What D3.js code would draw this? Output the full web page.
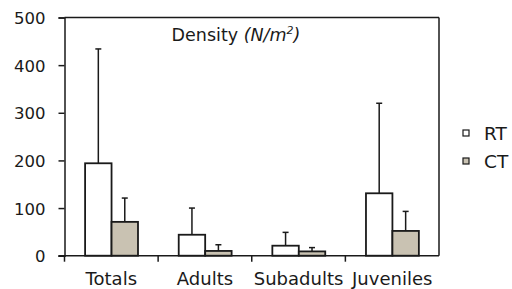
<!DOCTYPE html>
<html><head><meta charset="utf-8">
<script src="https://cdn.jsdelivr.net/npm/d3@7"></script>
<style>body{margin:0;background:#fff;} text{font-family:"DejaVu Sans",Verdana,sans-serif;fill:#1a1a1a;}</style>
</head><body><svg id="c" width="512" height="289"></svg>
<script>
const categories = ["Totals","Adults","Subadults","Juveniles"];
const series = ["RT","CT"];
const rtValues = [194, 44, 21, 131];
const ctValues = [71, 10, 9, 52];
const rtErrors = [434, 100, 49, 320];
const ctErrors = [121, 23, 17, 93];
const yTicks = [0,100,200,300,400,500];
const colors = {RT:"#ffffff", CT:"#c9c2b2"};

const svg = d3.select("#c");
const L=64.5, R=439, T=17.5, B=255.7;
const x0 = d3.scaleBand().domain(categories).range([L,R]);
const bw = x0.bandwidth();
const x1 = d3.scaleBand().domain(series).range([bw*0.22, bw*0.785]);
const y = d3.scaleLinear().domain([0,500]).range([B,T]);
const ink = "#1a1a1a";

const data = categories.map((c,i)=>[
  {cat:c, s:"RT", v:rtValues[i], e:rtErrors[i]},
  {cat:c, s:"CT", v:ctValues[i], e:ctErrors[i]}
]).flat();

// plot border top/right
svg.append("line").attr("x1",L).attr("x2",R).attr("y1",T).attr("y2",T).attr("stroke",ink).attr("stroke-width",1.5);
svg.append("line").attr("x1",R).attr("x2",R).attr("y1",T).attr("y2",B).attr("stroke",ink).attr("stroke-width",1.5);

// error bars
const eg = svg.append("g");
data.forEach(d=>{
  const cx = x0(d.cat)+x1(d.s)+x1.bandwidth()/2;
  eg.append("line").attr("x1",cx).attr("x2",cx).attr("y1",y(d.v)).attr("y2",y(d.e)).attr("stroke",ink).attr("stroke-width",1.5);
  eg.append("line").attr("x1",cx-3).attr("x2",cx+3).attr("y1",y(d.e)).attr("y2",y(d.e)).attr("stroke",ink).attr("stroke-width",1.5);
});
// bars
svg.append("g").selectAll("rect").data(data).join("rect")
  .attr("x",d=>x0(d.cat)+x1(d.s)).attr("width",x1.bandwidth())
  .attr("y",d=>y(d.v)).attr("height",d=>B-y(d.v))
  .attr("fill",d=>colors[d.s]).attr("stroke",ink).attr("stroke-width",1.8);

// y axis
const ya = svg.append("g").attr("transform",`translate(${L},0)`)
  .call(d3.axisLeft(y).tickValues(yTicks).tickSize(6).tickPadding(13));
ya.select(".domain").attr("stroke",ink).attr("stroke-width",1.5);
ya.selectAll(".tick line").attr("stroke",ink).attr("stroke-width",1.5);
ya.selectAll("text").attr("font-size",16.5).attr("font-family","DejaVu Sans").attr("fill",ink).attr("dy","0.36em");

// x axis
svg.append("line").attr("x1",L-6).attr("x2",R).attr("y1",B).attr("y2",B).attr("stroke",ink).attr("stroke-width",1.5);
const bounds = categories.map(c=>x0(c));
svg.append("g").selectAll("line").data(bounds).join("line")
  .attr("x1",d=>d).attr("x2",d=>d).attr("y1",B).attr("y2",B+6).attr("stroke",ink).attr("stroke-width",1.5);
svg.append("g").selectAll("text").data(categories).join("text")
  .attr("x",d=>x0(d)+bw/2).attr("y",284.5).attr("text-anchor","middle").attr("font-size",18).text(d=>d);

// title
const t = svg.append("text").attr("x",236).attr("y",41).attr("text-anchor","middle").attr("font-size",17.5);
t.append("tspan").text("Density ");
t.append("tspan").attr("font-style","italic").text("(N/m");
t.append("tspan").attr("font-style","italic").attr("font-size",11).attr("dy",-7).text("2");
t.append("tspan").attr("font-style","italic").attr("dy",7).text(")");

// legend
const lg = svg.append("g");
series.forEach((s,i)=>{
  const yy = 130 + i*28;
  lg.append("rect").attr("x",463).attr("y",yy).attr("width",6).attr("height",6).attr("fill",colors[s]).attr("stroke",ink).attr("stroke-width",1.2);
  lg.append("text").attr("x",484).attr("y",yy+9.5).attr("font-size",18.5).text(s);
});
</script></body></html>
